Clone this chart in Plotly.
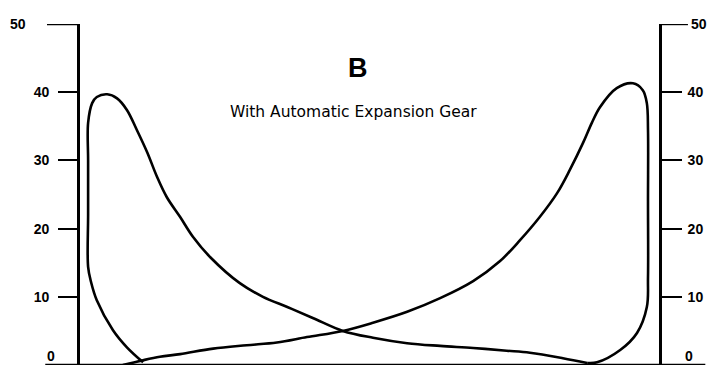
import plotly.graph_objects as go

# curve traced from the left: compression loop up the left side, then expansion line down to the right
x_left = [10.9, 8.1, 5.7, 2.9, 1.9, 1.4, 1.4, 1.4, 1.4, 2.1, 2.9, 4.7, 6.4, 8.1, 9.8, 11.6,
          13.3, 15.0, 17.3, 19.5, 22.5, 27.6, 31.6, 35.8, 40.2, 45.4, 50.6, 56.5, 62.2,
          67.9, 73.7, 77.7, 83.4, 87.6]
y_left = [0.4, 2.6, 5.1, 9.5, 12.2, 14.4, 22.0, 30.0, 35.5, 38.4, 39.3, 39.7, 39.1, 37.4,
          34.5, 31.2, 27.6, 24.6, 21.7, 18.8, 15.8, 12.0, 10.0, 8.5, 6.9, 5.0, 4.0, 3.2,
          2.8, 2.5, 2.1, 1.8, 1.0, 0.3]

# curve rising to the right peak and coming back down the right side
x_right = [7.4, 10.9, 13.8, 17.3, 23.0, 28.8, 34.0, 39.2, 45.4, 50.6, 56.5, 62.2, 67.9,
           72.5, 76.0, 79.4, 82.4, 84.6, 86.9, 88.4, 89.8, 92.7, 95.5, 97.2, 97.9, 98.1,
           98.1, 98.1, 97.9, 96.2, 93.3, 89.3, 87.6]
y_right = [0.0, 0.7, 1.2, 1.6, 2.4, 2.9, 3.3, 4.1, 5.0, 6.2, 7.8, 9.8, 12.3, 15.2, 18.3,
           21.7, 25.2, 28.6, 32.6, 35.5, 37.8, 40.6, 41.3, 40.3, 38.4, 34.5, 24.0, 12.9,
           8.5, 4.7, 2.2, 0.4, 0.3]

tick_vals = [0, 10, 20, 30, 40, 50]
tick_text = ["0", "10", "20", "30", "40", "50"]

fig = go.Figure()
fig.add_trace(go.Scatter(x=x_left, y=y_left, mode="lines",
                         line=dict(color="black", width=2.6, shape="spline", smoothing=1.0),
                         hoverinfo="skip"))
fig.add_trace(go.Scatter(x=x_right, y=y_right, mode="lines", yaxis="y2",
                         line=dict(color="black", width=2.6, shape="spline", smoothing=1.0),
                         hoverinfo="skip"))

# baseline runs past both vertical axes
fig.add_shape(type="line", xref="paper", yref="y", x0=-0.06, x1=1.08, y0=0, y1=0,
              line=dict(color="black", width=2.6))

fig.add_annotation(x=48.0, y=43.5, xref="x", yref="y", text="<b>B</b>", showarrow=False,
                   font=dict(family="Liberation Sans", size=27, color="black"))
fig.add_annotation(x=47.3, y=37.1, xref="x", yref="y", text="With Automatic Expansion Gear",
                   showarrow=False, font=dict(family="DejaVu Sans", size=15.5, color="black"))

tickfont = dict(family="Liberation Sans", size=14, color="black", weight="bold")

# the zero labels sit just above the baseline
for xp in [-0.06, 1.063]:
    fig.add_annotation(x=xp, y=tick_vals[0], xref="paper", yref="y", text=tick_text[0],
                       showarrow=False, yshift=9, font=tickfont)

# the 50 ticks are drawn longer than the rest
fig.add_shape(type="line", xref="paper", yref="y", x0=-0.057, x1=0, y0=tick_vals[-1],
              y1=tick_vals[-1], line=dict(color="black", width=2.4))
fig.add_shape(type="line", xref="paper", yref="y", x0=1, x1=1.05, y0=tick_vals[-1],
              y1=tick_vals[-1], line=dict(color="black", width=2.4))
fig.add_annotation(x=-0.09, y=tick_vals[-1], xref="paper", yref="y", text=tick_text[-1],
                   showarrow=False, xanchor="right", font=tickfont)
fig.add_annotation(x=1.052, y=tick_vals[-1], xref="paper", yref="y", text=tick_text[-1],
                   showarrow=False, xanchor="left", font=tickfont)

fig.update_layout(
    width=707, height=367,
    margin=dict(l=80, r=48, t=24, b=2),
    paper_bgcolor="white", plot_bgcolor="white",
    showlegend=False,
    xaxis=dict(range=[0, 100], showgrid=False, zeroline=False, showticklabels=False,
               ticks="", showline=False, fixedrange=True),
    yaxis=dict(range=[0, 50], showgrid=False, zeroline=False, showline=True,
               linecolor="black", linewidth=2.6, ticks="outside", ticklen=19,
               tickwidth=2.4, tickcolor="black", tickvals=tick_vals[1:5], ticktext=tick_text[1:5],
               tickfont=tickfont, ticklabelstandoff=6),
    yaxis2=dict(range=[0, 50], overlaying="y", side="right", showgrid=False, zeroline=False,
                showline=True, linecolor="black", linewidth=2.6, ticks="outside", ticklen=20,
                tickwidth=2.4, tickcolor="black", tickvals=tick_vals[1:5], ticktext=tick_text[1:5],
                tickfont=tickfont, ticklabelstandoff=3),
)

# drop the default page margin so the figure fills the window exactly
fig.write_html("out.html", config={"displayModeBar": False},
               post_script="document.body.style.margin='0';"
                           "document.body.style.overflow='hidden';")
